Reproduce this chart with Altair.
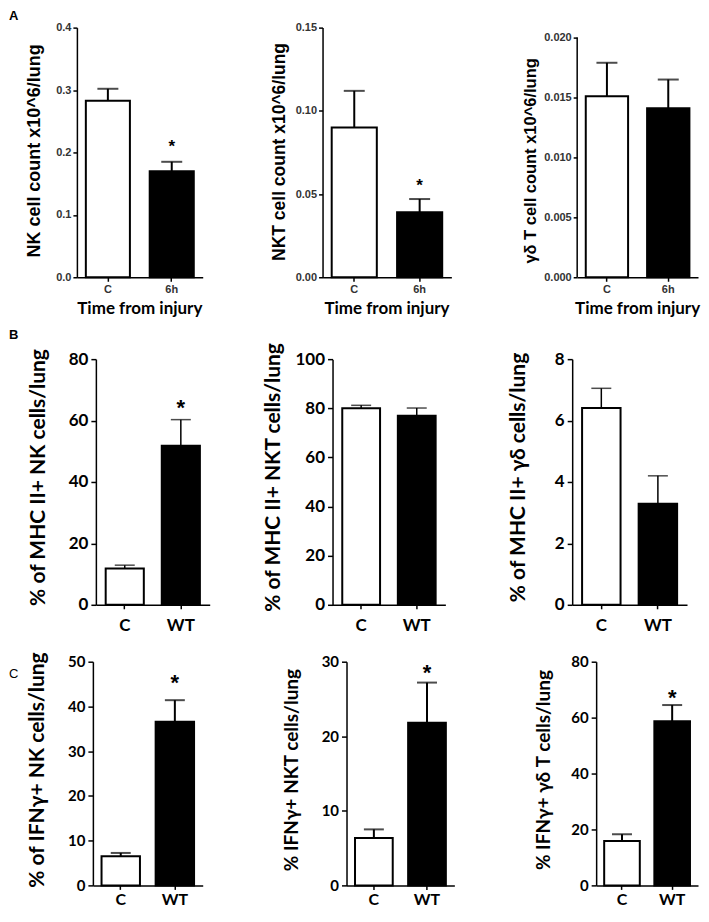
import altair as alt
import pandas as pd

# ---------------- data ----------------
time_groups = ["C", "6h"]
strain_groups = ["C", "WT"]

nk_count_mean = [0.283, 0.170]
nk_count_sem = [0.019, 0.015]
nkt_count_mean = [0.090, 0.039]
nkt_count_sem = [0.022, 0.008]
gd_count_mean = [0.0151, 0.0141]
gd_count_sem = [0.0028, 0.0024]

mhc_nk_mean = [11.8, 51.8]
mhc_nk_sem = [1.1, 8.5]
mhc_nkt_mean = [80.0, 77.0]
mhc_nkt_sem = [1.2, 3.1]
mhc_gd_mean = [6.41, 3.29]
mhc_gd_sem = [0.64, 0.91]

ifn_nk_mean = [6.5, 36.6]
ifn_nk_sem = [0.75, 4.8]
ifn_nkt_mean = [6.36, 21.8]
ifn_nkt_sem = [1.15, 5.4]
ifn_gd_mean = [15.9, 58.7]
ifn_gd_sem = [2.4, 5.8]

sig_nk_count = ["", "*"]
sig_nkt_count = ["", "*"]
sig_gd_count = ["", ""]
sig_mhc_nk = ["", "*"]
sig_mhc_nkt = ["", ""]
sig_mhc_gd = ["", ""]
sig_ifn_nk = ["", "*"]
sig_ifn_nkt = ["", "*"]
sig_ifn_gd = ["", "*"]

ticks_nk_count = [0.0, 0.1, 0.2, 0.3, 0.4]
ticks_nkt_count = [0.0, 0.05, 0.10, 0.15]
ticks_gd_count = [0.0, 0.005, 0.010, 0.015, 0.020]
ticks_mhc_nk = [0, 20, 40, 60, 80]
ticks_mhc_nkt = [0, 20, 40, 60, 80, 100]
ticks_mhc_gd = [0, 2, 4, 6, 8]
ticks_ifn_nk = [0, 10, 20, 30, 40, 50]
ticks_ifn_nkt = [0, 10, 20, 30]
ticks_ifn_gd = [0, 20, 40, 60, 80]

x_title_A = "Time from injury"

FILL_DOMAIN = ["C", "6h", "WT"]
FILL_RANGE = ["white", "black", "black"]

# ---------------- styles ----------------
one = pd.DataFrame({"k": [0]})

styleA = dict(lfont="Liberation Sans", lsize=11, lcolor="#333333", ytick=4, lpad=2,
              xlsize=11, xlpad=2, xtick=4, pi=0.31, po=0.14, cap=21, star=17, errw=2,
              tfont="Liberation Sans")
styleB = dict(lfont="Lato", lsize=17, lcolor="black", ytick=5, lpad=3,
              xlsize=17, xlpad=9, xtick=4, pi=0.32, po=0.175, cap=20, star=22, errw=1.5,
              tfont="Lato")
styleC = dict(lfont="Lato", lsize=15, lcolor="black", ytick=5, lpad=3,
              xlsize=16, xlpad=2, xtick=4, pi=0.29, po=0.16, cap=20, star=22, errw=2,
              tfont="Lato")


def panel(cats, mean, sem, sig, ticks, fmt, title, st, geo, ymax,
          tsize, tx, ty, star_dy, xtitle=None, letter=None, axis_rule=False):
    px, py, w, h, bx0, bx1, by0, by1 = geo
    df = pd.DataFrame({
        "group": cats,
        "mean": mean,
        "upper": [m + s for m, s in zip(mean, sem)],
        "sig": sig,
    })
    x = alt.X("group:N", sort=cats,
              scale=alt.Scale(domain=cats, paddingInner=st["pi"], paddingOuter=st["po"]),
              axis=alt.Axis(labelAngle=0, domainColor="black", domainWidth=1.5,
                            tickColor="black", tickWidth=1.5, tickSize=st["xtick"],
                            labelFont=st["lfont"], labelFontSize=st["xlsize"],
                            labelFontWeight="bold", labelColor=st["lcolor"],
                            labelPadding=st["xlpad"], grid=False, title=None))
    yaxis = alt.Axis(values=ticks, format=fmt, title=title, grid=False,
                     domain=not axis_rule, domainColor="black", domainWidth=1.5,
                     tickColor="black", tickWidth=1.5, tickSize=st["ytick"],
                     labelFont=st["lfont"], labelFontSize=st["lsize"], labelFontWeight="bold",
                     labelColor=st["lcolor"], labelPadding=st["lpad"], labelFlush=False,
                     labelOverlap=False,
                     titleFont=st["tfont"], titleFontSize=tsize, titleFontWeight="bold",
                     titleColor="black", titleAngle=270, titleX=tx, titleY=ty,
                     titleAlign="center", titleBaseline="middle")
    yscale = alt.Scale(domain=[0, ymax], nice=False, zero=True)

    def Y(field):
        return alt.Y(field, type="quantitative", scale=yscale, axis=yaxis)

    base = alt.Chart(df)
    bars = base.mark_bar(stroke="black", strokeWidth=2).encode(
        x=x, y=Y("mean"),
        fill=alt.Fill("group:N", scale=alt.Scale(domain=FILL_DOMAIN, range=FILL_RANGE), legend=None),
    )
    err = base.mark_rule(color="black", strokeWidth=st["errw"]).encode(
        x=x, y=Y("mean"), y2="upper:Q")
    cap = base.mark_tick(color="black", thickness=st["errw"], size=st["cap"]).encode(
        x=x, y=Y("upper"))
    star = base.mark_text(font="Liberation Sans", fontWeight="bold", fontSize=st["star"],
                          baseline="middle", align="center", dy=star_dy, color="black").encode(
        x=x, y=Y("upper"), text="sig:N")
    # invisible frame that fixes the panel's layout bounds
    box = alt.Chart(one).mark_rect(opacity=0).encode(
        x=alt.value(bx0 - px), x2=alt.value(bx1 - px),
        y=alt.value(by0 - py), y2=alt.value(by1 - py))
    layers = [box, bars, err, cap, star]
    if axis_rule:
        layers.append(alt.Chart(one).mark_rule(color="black", strokeWidth=1.5).encode(
            x=alt.value(0), y=alt.datum(0), y2=alt.datum(max(ticks))))
    if xtitle:
        layers.append(alt.Chart(one).mark_text(
            align="center", baseline="alphabetic", font="Lato", fontSize=17,
            fontWeight="bold", color="black").encode(
            x=alt.value(w / 2), y=alt.value(h + 37), text=alt.value(xtitle)))
    if letter:
        txt, lx, ly, lw = letter
        layers.append(alt.Chart(one).mark_text(
            align="left", baseline="top", font="Liberation Sans", fontSize=13,
            fontWeight=lw, color="black").encode(
            x=alt.value(lx - px), y=alt.value(ly - py), text=alt.value(txt)))
    return alt.layer(*layers).properties(width=w, height=h)


def spacer():
    return alt.Chart(one).mark_rect(opacity=0).encode(
        x=alt.value(0), x2=alt.value(1), y=alt.value(0), y2=alt.value(1)
    ).properties(width=1, height=1)


# geometry in page pixels: plot x, plot y, width, height, box x0, x1, y0, y1
A1 = panel(time_groups, nk_count_mean, nk_count_sem, sig_nk_count, ticks_nk_count, ".1f",
           "NK cell count x10^6/lung", styleA, (77, 27, 126, 250, 9, 240, 8, 326), 0.4,
           18, -42, 123, -14.6, xtitle=x_title_A, letter=("A", 9, 9, "bold"))
A2 = panel(time_groups, nkt_count_mean, nkt_count_sem, sig_nkt_count, ticks_nkt_count, ".2f",
           "NKT cell count x10^6/lung", styleA, (323, 27, 129, 250, 240, 495, 8, 326), 0.15,
           17.5, -43.5, 124, -12.6, xtitle=x_title_A)
A3 = panel(time_groups, gd_count_mean, gd_count_sem, sig_gd_count, ticks_gd_count, ".3f",
           "γδ T cell count x10^6/lung", styleA, (578, 27, 121, 250, 495, 701, 8, 326), 0.020833,
           16.5, -46.5, 133, -12.6, xtitle=x_title_A, axis_rule=True)

B1 = panel(strain_groups, mhc_nk_mean, mhc_nk_sem, sig_mhc_nk, ticks_mhc_nk, "d",
           "% of MHC II+ NK cells/lung", styleB, (96, 359, 114, 246, 9, 240, 326, 640), 80,
           21, -57, 118, -11.3, letter=("B", 9, 329, "bold"))
B2 = panel(strain_groups, mhc_nkt_mean, mhc_nkt_sem, sig_mhc_nkt, ticks_mhc_nkt, "d",
           "% of MHC II+ NKT cells/lung", styleB, (333, 359, 113, 246, 240, 495, 326, 640), 100,
           21, -59, 118, -11.3)
B3 = panel(strain_groups, mhc_gd_mean, mhc_gd_sem, sig_mhc_gd, ticks_mhc_gd, "d",
           "% of MHC II+ γδ cells/lung", styleB, (573, 359, 115, 246, 495, 701, 326, 640), 8,
           21, -54, 118, -11.3)

C1 = panel(strain_groups, ifn_nk_mean, ifn_nk_sem, sig_ifn_nk, ticks_ifn_nk, "d",
           "% of IFNγ+ NK cells/lung", styleC, (93, 662, 110, 224, 9, 240, 640, 908), 50,
           21, -55, 108, -17.3, letter=("C", 9, 668, "normal"))
C2 = panel(strain_groups, ifn_nkt_mean, ifn_nkt_sem, sig_ifn_nkt, ticks_ifn_nkt, "d",
           "% IFNγ+ NKT cells/lung", styleC, (347, 662, 108, 224, 240, 495, 640, 908), 30,
           19, -55, 108, -9.3)
C3 = panel(strain_groups, ifn_gd_mean, ifn_gd_sem, sig_ifn_gd, ticks_ifn_gd, "d",
           "% IFNγ+ γδ T cells/lung", styleC, (597, 662, 102, 224, 495, 701, 640, 908), 80,
           19, -53, 108, -7.3)

rowA = alt.hconcat(spacer(), A1, A2, A3, spacing=0)
rowB = alt.hconcat(spacer(), B1, B2, B3, spacing=0)
rowC = alt.hconcat(spacer(), C1, C2, C3, spacing=0)

chart = alt.vconcat(rowA, rowB, rowC, spacing=0).properties(
    padding=0, background="white"
).configure_view(stroke=None)

chart.save("out.html", embed_options={"renderer": "svg", "actions": False})
